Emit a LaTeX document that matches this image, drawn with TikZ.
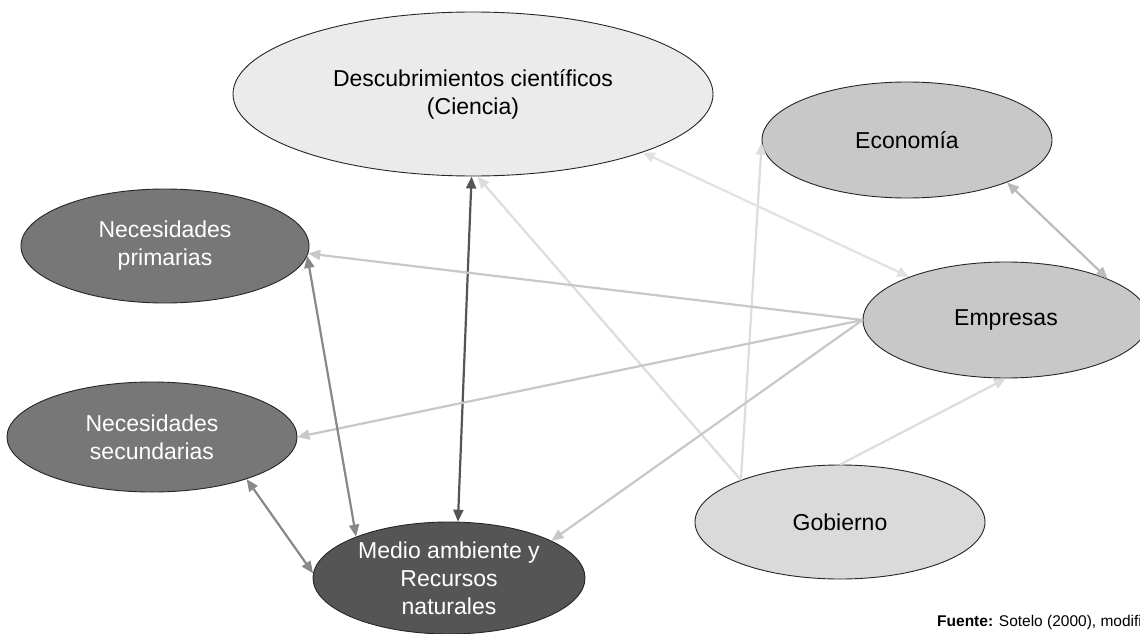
\documentclass[tikz,border=0pt]{standalone}
\usepackage{fontspec}
\setmainfont{Liberation Sans}
\usetikzlibrary{shapes.geometric,arrows.meta}
\definecolor{desccol}{HTML}{EBEBEB}
\definecolor{ecocol}{HTML}{C8C8C8}
\definecolor{gobcol}{HTML}{DADADA}
\definecolor{neccol}{HTML}{777777}
\definecolor{mediocol}{HTML}{555555}
\definecolor{lnDark}{HTML}{555555}
\definecolor{lnMid}{HTML}{888888}
\definecolor{lnEmp}{HTML}{C8C8C8}
\definecolor{lnGob}{HTML}{DDDDDD}
\definecolor{lnDesc}{HTML}{E2E2E2}
\definecolor{lnEco}{HTML}{BBBBBB}
\begin{document}
\begin{tikzpicture}[x=1pt,y=-1pt,
  ell/.style={ellipse, draw=black!85, line width=0.9pt, inner sep=0pt, align=center,
    font=\fontsize{23}{28}\selectfont},
  tipA/.tip={Triangle[length=12pt,width=10pt]},
  oneway/.style={line width=2.2pt, -tipA},
  twoway/.style={line width=2.2pt, tipA-tipA}]
\useasboundingbox (0,0) rectangle (1140,634);
\fill[white] (0,0) rectangle (1140,634);

\node[ell, fill=desccol, minimum width=480pt, minimum height=164pt] (desc) at (473,94) {Descubrimientos científicos\\(Ciencia)};
\node[ell, fill=ecocol, minimum width=290pt, minimum height=116pt] (eco) at (907,140) {Economía};
\node[ell, fill=ecocol, minimum width=286pt, minimum height=116pt] (emp) at (1006,320) {Empresas};
\node[ell, fill=neccol, text=white, minimum width=288pt, minimum height=114pt] (necp) at (165,246) {Necesidades\\primarias};
\node[ell, fill=neccol, text=white, minimum width=290pt, minimum height=110pt] (necs) at (152,437) {Necesidades\\secundarias};
\node[ell, fill=mediocol, text=white, minimum width=272pt, minimum height=112pt] (medio) at (449,578) {Medio ambiente y\\Recursos\\naturales};
\node[ell, fill=gobcol, minimum width=290pt, minimum height=114pt] (gob) at (840,522) {Gobierno};

\node[anchor=base west, font=\fontsize{15.5}{18}\selectfont, inner sep=0pt] (src) at (937,626) {\textbf{Fuente:} Sotelo (2000), modifi};

% connectors
\draw[twoway, lnDark] (desc.269) -- (medio.81);
\draw[oneway, lnGob] (gob.157.6) -- (desc.273);
\draw[oneway, lnGob] (gob.157.6) -- (eco.181);
\draw[oneway, lnGob] (gob.90) -- (emp.270);
\draw[twoway, lnDesc] (desc.341) -- (emp.156);
\draw[twoway, lnEco] (eco.337.7) -- (emp.22.7);
\draw[oneway, lnEmp] (emp.west) -- (necp.357);
\draw[oneway, lnEmp] (emp.west) -- (necs.0);
\draw[oneway, lnEmp] (emp.west) -- (medio.20);
\draw[twoway, lnMid] (necp.356) -- (medio.156.4);
\draw[twoway, lnMid] (necs.336.4) -- (medio.178.7);
\end{tikzpicture}
\end{document}
